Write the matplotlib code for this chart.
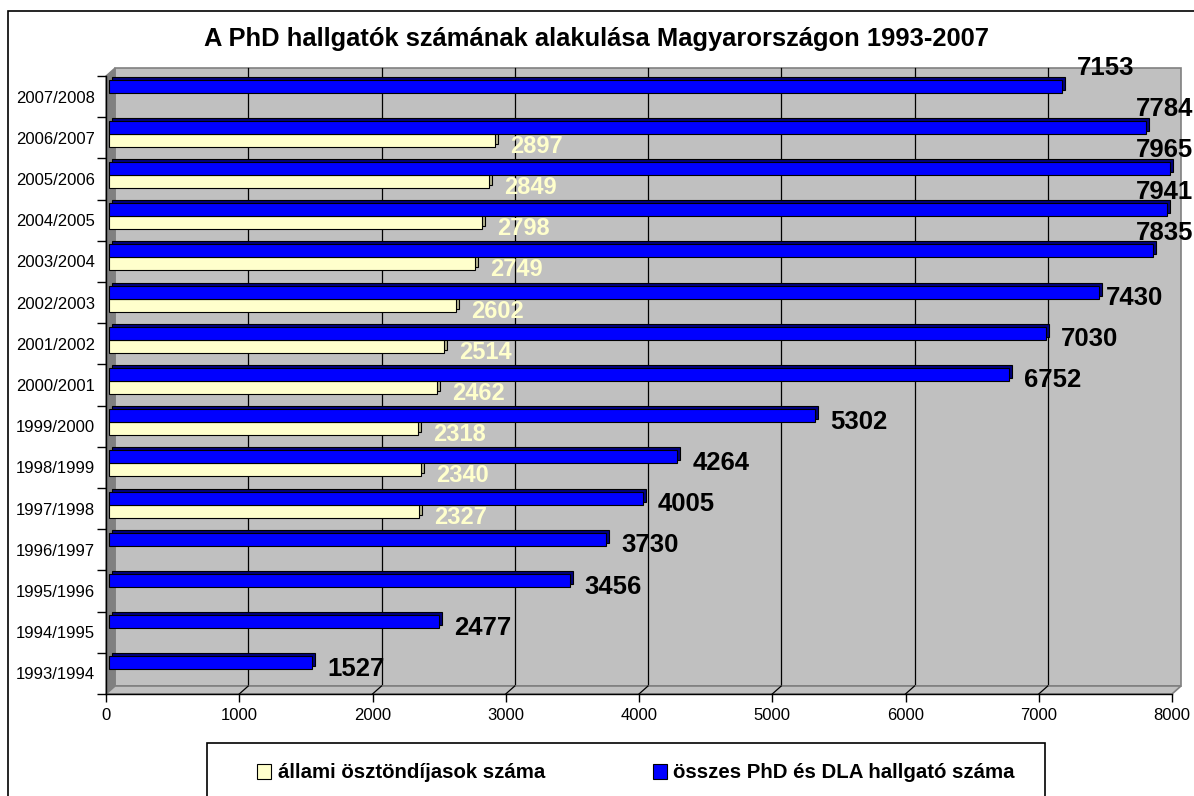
import matplotlib
matplotlib.use("Agg")
import matplotlib.pyplot as plt
import matplotlib.transforms as mtransforms
from matplotlib.patches import Rectangle, Polygon
from matplotlib.lines import Line2D

plt.rcParams["font.family"] = ["Liberation Sans", "DejaVu Sans"]

# --- data -------------------------------------------------------------
years = ["1993/1994", "1994/1995", "1995/1996", "1996/1997", "1997/1998",
         "1998/1999", "1999/2000", "2000/2001", "2001/2002", "2002/2003",
         "2003/2004", "2004/2005", "2005/2006", "2006/2007", "2007/2008"]
total_students = [1527, 2477, 3456, 3730, 4005, 4264, 5302, 6752, 7030,
                  7430, 7835, 7941, 7965, 7784, 7153]
state_scholars = [None, None, None, None, 2327, 2340, 2318, 2462, 2514,
                  2602, 2749, 2798, 2849, 2897, None]
x_ticks = [0, 1000, 2000, 3000, 4000, 5000, 6000, 7000, 8000]

TITLE = "A PhD hallgatók számának alakulása Magyarországon 1993-2007"
LBL_STATE = "állami ösztöndíjasok száma"
LBL_TOTAL = "összes PhD és DLA hallgató száma"

BLUE, BLUE_DARK = "#0000FF", "#000080"
YELLOW, YELLOW_DARK = "#FFFFCC", "#B3B38F"
WALL, WALL_EDGE, SIDE = "#C0C0C0", "#808080", "#808080"

W, H, DPI = 1194, 796, 100
DEPTH = (9, 8)          # wall depth, pixels (right, up)
BAR_OFF = (3, 4)        # bar front face sits half way in
EXTRUDE = (3, 3)        # bar thickness


def shift(dx, dy):
    return mtransforms.ScaledTranslation(dx / DPI, dy / DPI, fig.dpi_scale_trans)


fig = plt.figure(figsize=(W / DPI, H / DPI), dpi=DPI)
# front plane of the plot area
ax = fig.add_axes([106 / W, 1 - 694 / H, (1172 - 106) / W, (694 - 76) / H])
ax.set_facecolor("none")
ax.set_xlim(0, 8000)
ax.set_ylim(-0.5, len(years) - 0.5)
for s in ("top", "right"):
    ax.spines[s].set_visible(False)
for s in ("left", "bottom"):
    ax.spines[s].set_linewidth(1.0)
    ax.spines[s].set_zorder(6)

ident = mtransforms.IdentityTransform()
back = ax.transData + shift(*DEPTH)
top_y = len(years) - 0.5

# back wall with gridlines
ax.add_patch(Rectangle((0, -0.5), 8000, len(years), transform=back,
                       facecolor=WALL, edgecolor=WALL_EDGE, lw=1.2,
                       zorder=0, clip_on=False))
for v in x_ticks[1:-1]:
    ax.plot([v, v], [-0.5, top_y], transform=back, color="black", lw=0.9,
            zorder=0.5, clip_on=False)


# left wall and floor (parallelograms between front plane and back wall)
def disp(x, y):
    return ax.transData.transform((x, y))


fb, ft = disp(0, -0.5), disp(0, top_y)
fr = disp(8000, -0.5)
d = DEPTH
ax.add_patch(Polygon([fb, ft, (ft[0] + d[0], ft[1] + d[1]), (fb[0] + d[0], fb[1] + d[1])],
                     closed=True, transform=ident, facecolor=SIDE,
                     edgecolor=WALL_EDGE, lw=1.0, zorder=0.6, clip_on=False))
ax.add_patch(Polygon([fb, fr, (fr[0] + d[0], fr[1] + d[1]), (fb[0] + d[0], fb[1] + d[1])],
                     closed=True, transform=ident, facecolor=WALL,
                     edgecolor=WALL_EDGE, lw=1.2, zorder=0.6, clip_on=False))
for v in x_ticks[1:-1]:
    p = disp(v, -0.5)
    ax.add_artist(Line2D([p[0], p[0] + d[0]], [p[1], p[1] + d[1]],
                         transform=ident, color="black", lw=0.9, zorder=0.7))
ax.add_artist(Line2D([ft[0], ft[0] + d[0]], [ft[1], ft[1] + d[1]],
                     transform=ident, color="black", lw=1.0, zorder=0.7))

# bars
ypos = list(range(len(years)))
h = 13 / 41.2
face = ax.transData + shift(*BAR_OFF)
side = ax.transData + shift(BAR_OFF[0] + EXTRUDE[0], BAR_OFF[1] + EXTRUDE[1])

st_y = [y - h / 2 for y, v in zip(ypos, state_scholars) if v is not None]
st_v = [v for v in state_scholars if v is not None]
tot_y = [y + h / 2 for y in ypos]

ax.barh(st_y, st_v, height=h, color=YELLOW_DARK, edgecolor="black", lw=0.8,
        transform=side, zorder=2, clip_on=False)
ax.barh(tot_y, total_students, height=h, color=BLUE_DARK, edgecolor="black",
        lw=0.8, transform=side, zorder=2, clip_on=False)
ax.barh(st_y, st_v, height=h, color=YELLOW, edgecolor="black", lw=0.8,
        transform=face, zorder=3, clip_on=False)
ax.barh(tot_y, total_students, height=h, color=BLUE, edgecolor="black",
        lw=0.8, transform=face, zorder=3, clip_on=False)

# value labels (the last five years' totals sit above their bars)
labels = []
for i, (y, v) in enumerate(zip(tot_y, total_students)):
    dy = 22 if i >= len(years) - 5 else -2
    dx = 18 if i != len(years) - 6 else 10
    a = ax.annotate(str(v), xy=(v, y), xytext=(dx, dy),
                    textcoords="offset pixels", ha="left", va="center",
                    fontsize=18.5, fontweight="bold", color="black",
                    zorder=7, annotation_clip=False)
    labels.append(a)
for y, v in zip(st_y, st_v):
    a = ax.annotate(str(v), xy=(v, y), xytext=(18, -2),
                    textcoords="offset pixels", ha="left", va="center",
                    fontsize=17, fontweight="bold", color=YELLOW,
                    zorder=7, annotation_clip=False)
    labels.append(a)

# axes ticks
ax.set_xticks(x_ticks)
ax.set_xticklabels([str(t) for t in x_ticks], fontsize=12)
ax.tick_params(axis="x", length=6, width=1.0, pad=4, direction="out")
bounds = [y - 0.5 for y in ypos] + [top_y]
ax.set_yticks(bounds)
ax.set_yticklabels([])
ax.tick_params(axis="y", which="major", length=6.5, width=1.0, direction="out")
ax.set_yticks(ypos, years, minor=True)
ax.tick_params(axis="y", which="minor", length=0, pad=8, labelsize=12)

# title
fig.text(597 / W, 1 - 39 / H, TITLE, ha="center", va="center",
         fontsize=18.4, fontweight="bold")

# outer chart border and legend box
fig.add_artist(Rectangle((8 / W, -0.05), 1.2, 1 - 11 / H + 0.05,
                         transform=fig.transFigure, facecolor="none",
                         edgecolor="black", lw=1.2, zorder=10))
fig.add_artist(Rectangle((207 / W, -0.05), (1045 - 207) / W, 1 - 743 / H + 0.05,
                         transform=fig.transFigure, facecolor="white",
                         edgecolor="black", lw=1.2, zorder=10))
handles = [Rectangle((0, 0), 1, 1, facecolor=YELLOW, edgecolor="black", lw=0.8),
           Rectangle((0, 0), 1, 1, facecolor=BLUE, edgecolor="black", lw=0.8)]
leg = fig.legend(handles, [LBL_STATE, LBL_TOTAL], loc="center",
                 bbox_to_anchor=(636 / W, 1 - 773 / H), ncol=2, frameon=False,
                 prop={"size": 14.7, "weight": "bold"}, handlelength=0.7,
                 handleheight=0.7, handletextpad=0.3, columnspacing=5.3)
leg.set_zorder(11)

# keep value labels inside the chart area
fig.canvas.draw()
renderer = fig.canvas.get_renderer()
for a in labels:
    bb = a.get_window_extent(renderer)
    if bb.x1 > W - 1:
        dx, dy = a.xyann
        a.xyann = (dx - (bb.x1 - (W - 1)), dy)

fig.savefig("out.png", dpi=DPI)
